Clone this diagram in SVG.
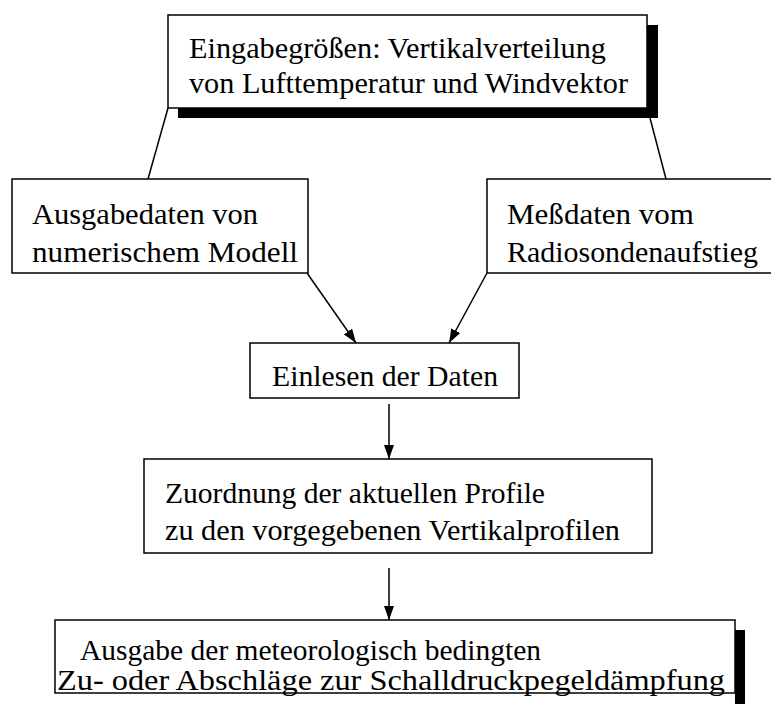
<svg xmlns="http://www.w3.org/2000/svg" width="771" height="704" viewBox="0 0 771 704">
<style>
.box{fill:#fff;stroke:#000;stroke-width:1.5}
.shadow{fill:#000}
text{font-family:'Liberation Serif',Tinos,'Times New Roman',Times,serif;font-size:30px;fill:#000}
.c{stroke:#000;stroke-width:1.5;fill:none}
</style>
<defs>
<marker id="ah" markerUnits="userSpaceOnUse" markerWidth="14" markerHeight="10" refX="14" refY="5" orient="auto">
<path d="M0,0 L14,5 L0,10 Z" fill="#000"/>
</marker>
</defs>
<rect width="771" height="704" fill="#fff"/>
<g id="connectors">
<line class="c" x1="168" y1="108" x2="148" y2="179"/>
<line class="c" x1="650" y1="118" x2="666" y2="179"/>
<line class="c" x1="307" y1="273" x2="356" y2="343" marker-end="url(#ah)"/>
<line class="c" x1="487" y1="273" x2="449" y2="343" marker-end="url(#ah)"/>
<line class="c" x1="389" y1="404" x2="389" y2="459" marker-end="url(#ah)"/>
<line class="c" x1="389" y1="568" x2="389" y2="620" marker-end="url(#ah)"/>
</g>
<g id="n_input">
<rect class="shadow" x="178" y="25" width="480" height="93"/>
<rect class="box" x="168" y="15" width="479" height="93"/>
<text x="189" y="58" textLength="417" lengthAdjust="spacingAndGlyphs">Eingabegrößen: Vertikalverteilung</text>
<text x="189" y="93" textLength="439" lengthAdjust="spacingAndGlyphs">von Lufttemperatur und Windvektor</text>
</g>
<g id="n_model">
<rect class="box" x="12" y="179" width="296" height="94"/>
<text x="32" y="224" textLength="226" lengthAdjust="spacingAndGlyphs">Ausgabedaten von</text>
<text x="32" y="262" textLength="266" lengthAdjust="spacingAndGlyphs">numerischem Modell</text>
</g>
<g id="n_sonde">
<rect class="box" x="487" y="179" width="300" height="94"/>
<text x="507" y="224" textLength="187" lengthAdjust="spacingAndGlyphs">Meßdaten vom</text>
<text x="507" y="262" textLength="251" lengthAdjust="spacingAndGlyphs">Radiosondenaufstieg</text>
</g>
<g id="n_read">
<rect class="box" x="250" y="343" width="269" height="55"/>
<text x="272" y="386" textLength="226" lengthAdjust="spacingAndGlyphs">Einlesen der Daten</text>
</g>
<g id="n_assign">
<rect class="box" x="144" y="459" width="508" height="94"/>
<text x="165" y="503" textLength="380" lengthAdjust="spacingAndGlyphs">Zuordnung der aktuellen Profile</text>
<text x="165" y="540" textLength="455" lengthAdjust="spacingAndGlyphs">zu den vorgegebenen Vertikalprofilen</text>
</g>
<g id="n_output">
<rect class="shadow" x="735" y="630" width="10" height="74"/>
<rect class="box" x="55" y="620" width="680" height="73"/>
<text x="80" y="660" textLength="461" lengthAdjust="spacingAndGlyphs">Ausgabe der meteorologisch bedingten</text>
<text x="57" y="690" textLength="668" lengthAdjust="spacingAndGlyphs">Zu- oder Abschläge zur Schalldruckpegeldämpfung</text>
</g>
</svg>
